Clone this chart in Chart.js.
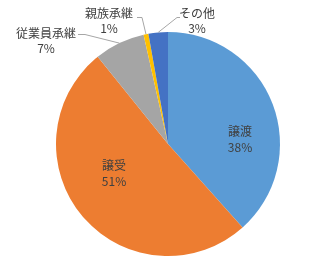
<!DOCTYPE html>
<html>
<head>
<meta charset="utf-8">
<script src="https://cdn.jsdelivr.net/npm/chart.js@4/dist/chart.umd.min.js"></script>
<style>
  body { margin: 0; background: #fff; }
  #wrap { width: 328px; height: 270px; }
</style>
</head>
<body>
<div id="wrap"><canvas id="myChart" width="328" height="270"></canvas></div>
<script>
// data
var labels = ['譲渡', '譲受', '従業員承継', '親族承継', 'その他'];
var values = [38.4, 50.8, 7.3, 0.7, 2.8];
var colors = ['#5B9BD5', '#ED7D31', '#A5A5A5', '#FFC000', '#4472C4'];

// label placement, relative to the pie centre (inside) or absolute anchor + elbow (outside)
var labelLayout = [
    { inside: true, dx: 72, dy: -5 },
    { inside: true, dx: -54, dy: 29 },
    { inside: false, x: 46, y: 33, elbow: [[78, 34], [85, 34]] },
    { inside: false, x: 109, y: 13, elbow: [[137, 17], [142, 17]] },
    { inside: false, x: 197, y: 13, elbow: [[180, 17], [177, 17]] }
];

var fontFamily = '"Noto Sans CJK JP", "Noto Sans", sans-serif';

var pieLabels = {
    id: 'pieLabels',
    afterDatasetsDraw: function(chart) {
        var c = chart.ctx;
        var meta = chart.getDatasetMeta(0);
        var total = values.reduce(function(a, b) { return a + b; }, 0);
        c.save();
        meta.data.forEach(function(arc, i) {
            var p = arc.getProps(['x', 'y', 'startAngle', 'endAngle', 'outerRadius'], true);
            var lay = labelLayout[i];
            var pct = Math.round(values[i] / total * 100) + '%';
            var tx, ty;
            if (lay.inside) {
                tx = p.x + lay.dx;
                ty = p.y + lay.dy;
            } else {
                tx = lay.x;
                ty = lay.y;
                // leader line from slice edge to label
                var mid = (p.startAngle + p.endAngle) / 2;
                var ex = p.x + Math.cos(mid) * p.outerRadius;
                var ey = p.y + Math.sin(mid) * p.outerRadius;
                c.strokeStyle = '#A6A6A6';
                c.lineWidth = 1;
                c.beginPath();
                c.moveTo(lay.elbow[0][0], lay.elbow[0][1] + 0.5);
                c.lineTo(lay.elbow[1][0], lay.elbow[1][1] + 0.5);
                c.lineTo(ex, ey);
                c.stroke();
            }
            c.fillStyle = '#404040';
            c.textAlign = 'center';
            c.textBaseline = 'middle';
            c.font = '12px ' + fontFamily;
            if (lay.inside) {
                c.fillText(labels[i], tx, ty - 8);
                c.fillText(pct, tx, ty + 8);
            } else {
                c.fillText(labels[i], tx, ty);
                c.fillText(pct, tx, ty + 15);
            }
        });
        c.restore();
    }
};

var ctx = document.getElementById('myChart').getContext('2d');
var chart = new Chart(ctx, {
    type: 'pie',
    data: {
        labels: labels,
        datasets: [{
            data: values,
            backgroundColor: colors,
            borderWidth: 0
        }]
    },
    options: {
        responsive: false,
        animation: false,
        layout: { padding: { left: 56, right: 48, top: 32, bottom: 14 } },
        plugins: {
            legend: { display: false },
            tooltip: { enabled: false }
        }
    },
    plugins: [pieLabels]
});
</script>
</body>
</html>
